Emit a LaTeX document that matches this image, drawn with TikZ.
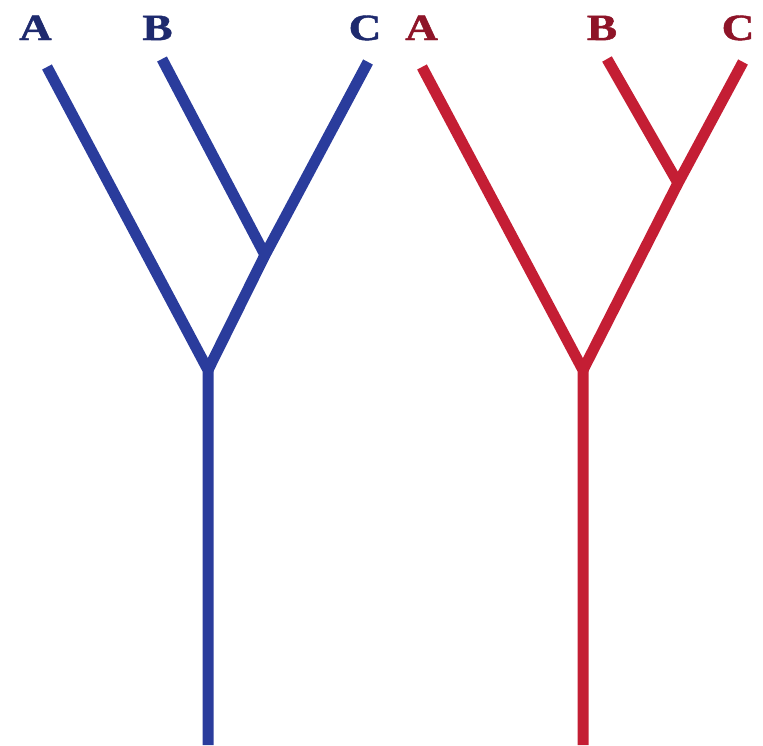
\documentclass[tikz,border=0pt]{standalone}
\usepackage{fontspec}
\setmainfont{Liberation Serif}
\newfontfamily\labfont[FakeBold=1.2]{Liberation Serif Bold}
\definecolor{bline}{HTML}{2A3C9C}
\definecolor{blab}{HTML}{1E2A6E}
\definecolor{rline}{HTML}{C41E34}
\definecolor{rlab}{HTML}{8E1428}
\newcommand{\widelet}[1]{\scalebox{1.22}[1]{#1}}
\begin{document}
\begin{tikzpicture}[x=1pt,y=-1pt,
  branch/.style={line width=11pt,line join=miter},
  lab/.style={font=\labfont\fontsize{37}{37}\selectfont,inner sep=0pt,anchor=base}]
\useasboundingbox (0,0) rectangle (763,745);
% blue tree
\coordinate (bA) at (47,67);
\coordinate (bB) at (162,59);
\coordinate (bC) at (368,62);
\coordinate (bBC) at (265,255);
\coordinate (bR) at (208,370);
\coordinate (bE) at (208,745);
\draw[branch,bline] (bA) -- (bR) -- (bE);
\draw[branch,bline] (bC) -- (bBC) -- (bR);
\draw[branch,bline] (bB) -- (bBC);
\node[lab,text=blab] (lbA) at (35.5,40) {\widelet{A}};
\node[lab,text=blab] (lbB) at (157.5,40) {\widelet{B}};
\node[lab,text=blab] (lbC) at (365,40) {\widelet{C}};
% red tree
\coordinate (rA) at (422,67);
\coordinate (rB) at (607,59);
\coordinate (rC) at (743,62);
\coordinate (rBC) at (678,183);
\coordinate (rR) at (583,370);
\coordinate (rE) at (583,745);
\draw[branch,rline] (rA) -- (rR) -- (rE);
\draw[branch,rline] (rC) -- (rBC) -- (rR);
\draw[branch,rline] (rB) -- (rBC);
\node[lab,text=rlab] (lrA) at (421.5,40) {\widelet{A}};
\node[lab,text=rlab] (lrB) at (602,40) {\widelet{B}};
\node[lab,text=rlab] (lrC) at (738,40) {\widelet{C}};
\end{tikzpicture}
\end{document}
